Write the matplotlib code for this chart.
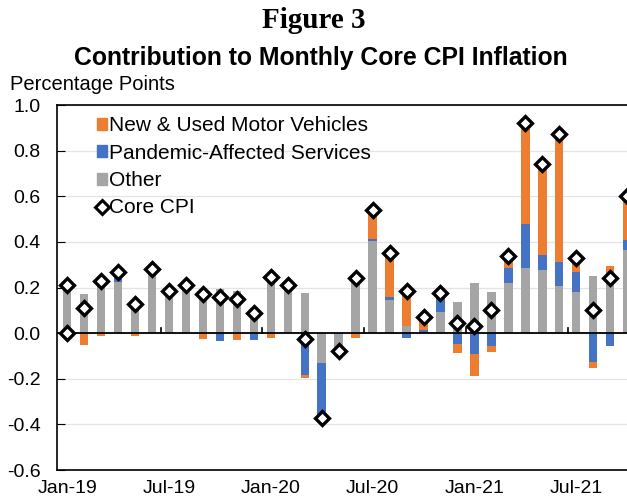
import numpy as np
import pandas as pd
import matplotlib
matplotlib.use('Agg')
import matplotlib.pyplot as plt
from matplotlib.patches import Patch
from matplotlib.lines import Line2D

plt.rcParams['font.family'] = ['Liberation Sans', 'DejaVu Sans']

# monthly data, Jan-19 .. Oct-21 (percentage points)
months = pd.date_range('2019-01-01', '2021-10-01', freq='MS')
other = [0.21, 0.17, 0.235, 0.225, 0.13, 0.28, 0.185, 0.21, 0.195, 0.195, 0.185, 0.11,
         0.26, 0.21, 0.175, -0.13, -0.08, 0.25, 0.405, 0.145, 0.03, 0.0, 0.095, 0.135,
         0.22, 0.18, 0.22, 0.285, 0.275, 0.205, 0.18, 0.25, 0.265, 0.365]
pandemic = [0, 0, 0, 0.05, 0, 0, 0, 0, 0, -0.035, 0, -0.03,
            0, 0, -0.185, -0.235, 0, 0, 0.01, 0.015, -0.02, 0.015, 0.06, -0.048,
            -0.092, -0.054, 0.066, 0.193, 0.066, 0.107, 0.09, -0.124, -0.054, 0.044]
vehicles = [0, -0.05, -0.01, 0, -0.013, 0, 0, 0, -0.025, 0, -0.03, 0,
            -0.02, 0, -0.01, -0.005, 0, -0.02, 0.125, 0.178, 0.155, 0.055, 0.02, -0.04,
            -0.095, -0.029, 0.05, 0.428, 0.383, 0.551, 0.06, -0.029, 0.03, 0.19]
core = [0.21, 0.11, 0.23, 0.27, 0.13, 0.28, 0.185, 0.21, 0.17, 0.16, 0.15, 0.09,
        0.245, 0.21, -0.025, -0.37, -0.08, 0.24, 0.54, 0.35, 0.185, 0.07, 0.175, 0.045,
        0.03, 0.10, 0.34, 0.92, 0.74, 0.875, 0.33, 0.10, 0.24, 0.60]
# stray zero point plotted at Jan-19 in the original
core_extra_idx = [0]
core_extra = [0.0]

tick_labels = ["Jan-19", "Jul-19", "Jan-20", "Jul-20", "Jan-21", "Jul-21"]

c_veh = '#ED7D31'
c_pan = '#4472C4'
c_oth = '#A5A5A5'

x = np.arange(len(months))

fig = plt.figure(figsize=(6.27, 4.98), dpi=100)
ax = fig.add_axes([0.091, 0.056, 0.92, 0.733])

# stacked bars, positives up and negatives down (Excel style)
pos_bot = np.zeros(len(x))
neg_bot = np.zeros(len(x))
for vals, col in [(other, c_oth), (pandemic, c_pan), (vehicles, c_veh)]:
    v = np.array(vals, dtype=float)
    bot = np.where(v >= 0, pos_bot, neg_bot)
    ax.bar(x, v, bottom=bot, width=0.5, color=col, zorder=2)
    pos_bot += np.where(v >= 0, v, 0)
    neg_bot += np.where(v < 0, v, 0)

ax.axhline(0, color='black', lw=1.3, zorder=3)
# small category ticks on the zero line
for b in np.arange(5.5, len(x), 6):
    ax.plot([b, b], [0, 0.025], color='black', lw=1.2, zorder=3)

ax.plot(x, core, ls='none', marker='D', ms=7.5, mfc='white', mec='black', mew=2.4, zorder=5)
ax.plot(core_extra_idx, core_extra, ls='none', marker='D', ms=7.5, mfc='white', mec='black', mew=2.4, zorder=5)

ax.set_ylim(-0.6, 1.0)
ax.set_xlim(-0.6, 33.4)
ax.set_yticks(np.arange(-0.6, 1.01, 0.2))
ax.set_yticklabels(["%.1f" % t for t in np.arange(-0.6, 1.01, 0.2)], fontsize=14)
ax.set_xticks(x[::6])
ax.set_xticklabels(tick_labels, fontsize=14)
ax.tick_params(axis='x', length=0, pad=7)
ax.tick_params(axis='y', direction='in', length=6, pad=12)
ax.grid(axis='y', color='#E4E4E4', lw=0.9, zorder=0)
ax.set_axisbelow(True)
ax.spines['right'].set_visible(False)
for s in ['top', 'left', 'bottom']:
    ax.spines[s].set_linewidth(1.2)

handles = [Patch(color=c_veh), Patch(color=c_pan), Patch(color=c_oth),
           Line2D([], [], ls='none', marker='D', ms=7, mfc='white', mec='black', mew=2.2)]
labels = ["New & Used Motor Vehicles", "Pandemic-Affected Services", "Other", "Core CPI"]
ax.legend(handles, labels, loc='upper left', bbox_to_anchor=(0.054, 0.992), frameon=False,
          fontsize=15, handlelength=0.5, handleheight=0.5, handletextpad=0.12,
          labelspacing=0.4, borderaxespad=0)

fig.text(0.5, 0.958, "Figure 3", ha='center', va='center', fontsize=21, fontweight='bold',
         family=['Liberation Serif', 'DejaVu Serif'])
fig.text(0.512, 0.8835, "Contribution to Monthly Core CPI Inflation", ha='center', va='center',
         fontsize=17.8, fontweight='bold')
fig.text(0.016, 0.831, "Percentage Points", ha='left', va='center', fontsize=14.5)

fig.savefig('out.png', dpi=100)
